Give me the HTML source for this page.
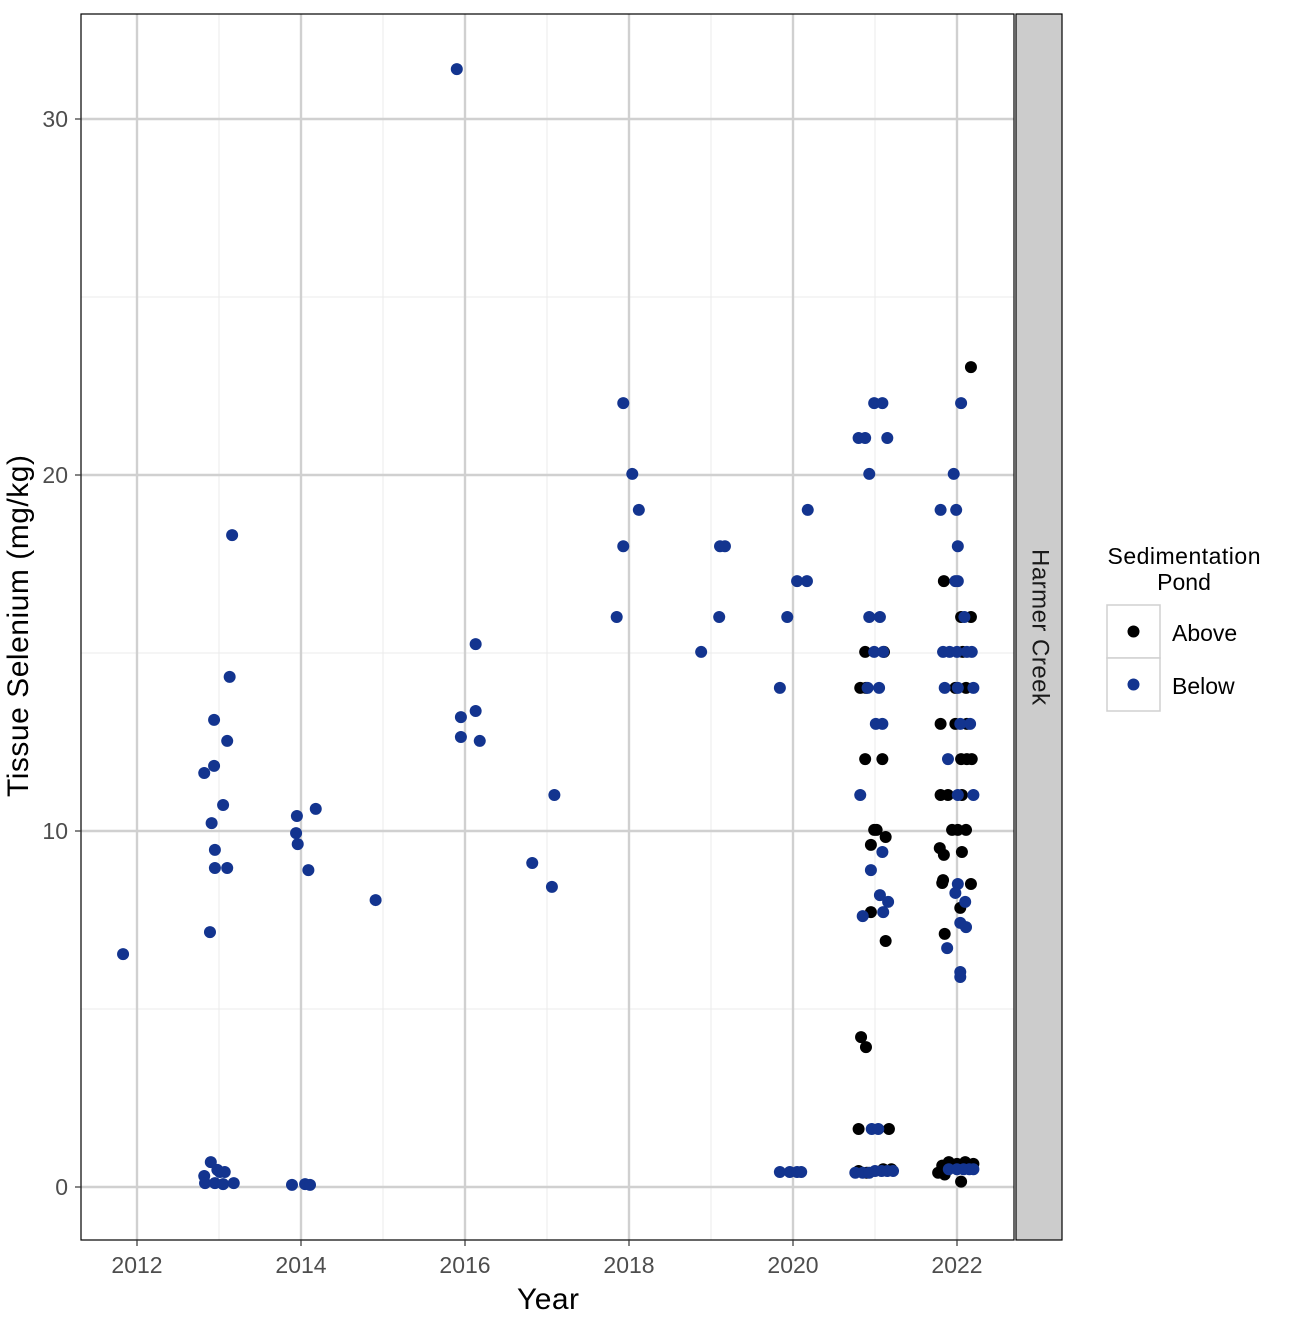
<!DOCTYPE html>
<html><head><meta charset="utf-8"><style>
body{margin:0;background:#fff;}
svg text{font-family:"Liberation Sans",Arial,sans-serif;}
</style></head><body>
<svg id="chart" width="1294" height="1318" viewBox="0 0 1294 1318" xmlns="http://www.w3.org/2000/svg">
<g id="grid"></g>
<g id="pts"></g>
<rect x="81" y="14" width="933" height="1226" fill="none" stroke="#000" stroke-width="1.2"/>
<rect x="1016" y="14" width="46" height="1226" fill="#cccccc" stroke="#000" stroke-width="1.2"/>
<text x="1039" y="627" transform="rotate(90 1039 627)" text-anchor="middle" dominant-baseline="middle" font-size="24" fill="#1a1a1a" textLength="156">Harmer Creek</text>
<g id="ticks"></g>
<text x="548" y="1309" text-anchor="middle" font-size="30" fill="#000" textLength="62">Year</text>
<text x="28" y="626" transform="rotate(-90 28 626)" text-anchor="middle" font-size="30" fill="#000" textLength="342">Tissue Selenium (mg/kg)</text>
<g>
<text x="1184" y="564" text-anchor="middle" font-size="23" fill="#000" textLength="153">Sedimentation</text>
<text x="1184" y="590" text-anchor="middle" font-size="23" fill="#000">Pond</text>
<rect x="1107" y="605" width="53" height="53" fill="#fff" stroke="#d0d0d0" stroke-width="1.5"/>
<rect x="1107" y="658" width="53" height="53" fill="#fff" stroke="#d0d0d0" stroke-width="1.5"/>
<circle cx="1133.5" cy="631.5" r="6" fill="#000"/>
<circle cx="1133.5" cy="684.5" r="6" fill="#13348f"/>
<text x="1172" y="641" font-size="23" fill="#000">Above</text>
<text x="1172" y="694" font-size="23" fill="#000">Below</text>
</g>
</svg>
<script>
const xTicks=[2012,2014,2016,2018,2020,2022];
const xMinor=[2013,2015,2017,2019,2021];
const yTicks=[0,10,20,30];
const yMinor=[5,15,25];
const above=[[2020.88,15.03],[2021.11,15.03],[2020.82,14.02],[2020.89,14.02],[2020.88,12.02],[2021.09,12.02],[2020.99,10.03],[2021.02,10.03],[2021.13,9.83],[2020.95,9.61],[2020.95,7.72],[2021.13,6.91],[2020.83,4.21],[2020.89,3.93],[2020.80,1.63],[2021.17,1.63],[2020.80,0.45],[2020.90,0.40],[2021.10,0.50],[2021.20,0.50],
[2022.17,23.03],[2021.84,17.02],[2022.05,16.01],[2022.17,16.01],[2022.07,15.03],[2021.98,14.02],[2022.11,14.02],[2021.80,13.01],[2021.98,13.01],[2022.12,13.01],[2022.05,12.02],[2022.12,12.02],[2022.18,12.02],[2021.80,11.01],[2021.89,11.01],[2022.06,11.01],[2021.94,10.03],[2022.01,10.03],[2022.11,10.03],[2021.79,9.52],[2021.84,9.33],[2022.06,9.41],[2021.82,8.54],[2021.83,8.62],[2022.17,8.51],[2022.04,7.84],[2021.85,7.11],[2021.77,0.40],[2021.82,0.60],[2021.90,0.70],[2022.00,0.65],[2022.10,0.70],[2022.20,0.65],[2022.05,0.15],[2021.85,0.35]];
const below=[[2011.83,6.54],[2012.82,11.63],[2012.94,11.83],[2012.94,13.12],[2013.10,12.53],[2013.13,14.33],[2013.16,18.31],[2013.05,10.73],[2012.91,10.22],[2012.95,9.47],[2012.95,8.96],[2013.10,8.96],[2012.89,7.16],[2012.82,0.31],[2012.90,0.70],[2012.83,0.11],[2012.95,0.11],[2013.01,0.42],[2013.07,0.42],[2013.05,0.08],[2013.18,0.11],[2012.98,0.48],
[2013.94,9.94],[2013.95,10.42],[2013.96,9.63],[2014.09,8.90],[2014.18,10.62],[2013.89,0.06],[2014.05,0.08],[2014.11,0.06],[2014.91,8.06],
[2015.90,31.4],[2015.95,13.2],[2015.95,12.64],[2016.13,13.37],[2016.13,15.25],[2016.18,12.53],[2016.82,9.10],[2017.06,8.43],[2017.09,11.01],
[2017.85,16.01],[2017.93,18.0],[2017.93,22.02],[2018.04,20.03],[2018.12,19.02],[2018.88,15.03],[2019.10,16.01],[2019.11,18.0],[2019.17,18.0],
[2019.84,14.02],[2019.93,16.01],[2020.05,17.02],[2020.17,17.02],[2020.18,19.02],[2019.84,0.42],[2019.96,0.42],[2020.05,0.42],[2020.10,0.42],
[2020.99,22.02],[2021.09,22.02],[2020.80,21.04],[2020.88,21.04],[2021.15,21.04],[2020.93,20.03],[2020.93,16.01],[2021.06,16.01],[2020.99,15.03],[2021.10,15.03],[2020.91,14.02],[2021.05,14.02],[2021.01,13.01],[2021.09,13.01],[2020.82,11.01],[2021.09,9.41],[2020.95,8.90],[2021.06,8.20],[2021.16,8.01],[2020.85,7.61],[2021.10,7.72],[2020.96,1.63],[2021.04,1.63],[2020.76,0.40],[2020.85,0.40],[2020.93,0.40],[2021.00,0.45],[2021.08,0.45],[2021.15,0.45],[2021.22,0.45],
[2022.05,22.02],[2021.96,20.03],[2021.80,19.02],[2021.99,19.02],[2022.01,18.0],[2021.98,17.02],[2022.01,17.02],[2022.09,16.01],[2021.83,15.03],[2021.91,15.03],[2022.00,15.03],[2022.12,15.03],[2022.18,15.03],[2021.85,14.02],[2022.01,14.02],[2022.20,14.02],[2022.04,13.01],[2022.16,13.01],[2021.89,12.02],[2022.01,11.01],[2022.20,11.01],[2022.01,8.51],[2021.98,8.26],[2022.10,8.01],[2022.04,7.42],[2022.11,7.30],[2021.88,6.71],[2022.04,6.04],[2022.04,5.90],[2021.90,0.50],[2022.00,0.50],[2022.08,0.50],[2022.15,0.50],[2022.20,0.50]];
const NS='http://www.w3.org/2000/svg';
const X=v=>137+(v-2012)*82;
const Y=v=>1187-v*35.6;
const grid=document.getElementById('grid'),ticks=document.getElementById('ticks'),pts=document.getElementById('pts');
function ln(p,x1,y1,x2,y2,c,w){const l=document.createElementNS(NS,'line');l.setAttribute('x1',x1);l.setAttribute('y1',y1);l.setAttribute('x2',x2);l.setAttribute('y2',y2);l.setAttribute('stroke',c);l.setAttribute('stroke-width',w);p.appendChild(l);return l;}
function tx(x,y,s,a){const t=document.createElementNS(NS,'text');t.setAttribute('x',x);t.setAttribute('y',y);t.setAttribute('text-anchor',a);t.setAttribute('font-size','23');t.setAttribute('fill','#4d4d4d');t.textContent=s;ticks.appendChild(t);return t;}
xMinor.forEach(v=>{const l=ln(grid,X(v),14,X(v),1240,'#ebebeb',1);

});
yMinor.forEach(v=>{const l=ln(grid,81,Y(v),1014,Y(v),'#ebebeb',1);

});
xTicks.forEach(v=>{const l=ln(grid,X(v),14,X(v),1240,'#d0d0d0',2.4);


const k=ln(ticks,X(v),1240,X(v),1246,'#333',1.2);


const t=tx(X(v),1273,String(v),'middle');

});
yTicks.forEach(v=>{const l=ln(grid,81,Y(v),1014,Y(v),'#d0d0d0',2.4);


const k=ln(ticks,75,Y(v),81,Y(v),'#333',1.2);


const t=tx(68,Y(v)+8,String(v),'end');

});
function dot(d,c,name){const e=document.createElementNS(NS,'circle');e.setAttribute('cx',X(d[0]));e.setAttribute('cy',Y(d[1]));e.setAttribute('r',6);e.setAttribute('fill',c);


pts.appendChild(e);}
above.forEach(d=>dot(d,'#000','point-above'));
below.forEach(d=>dot(d,'#13348f','point-below'));
</script>
</body></html>
